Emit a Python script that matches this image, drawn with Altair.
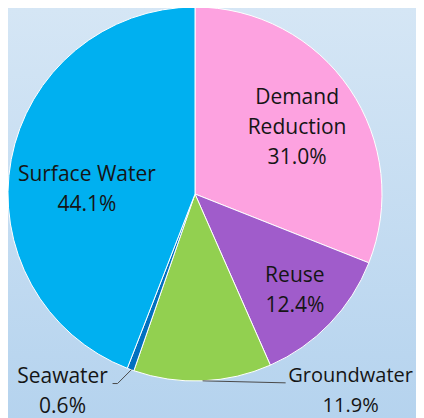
import altair as alt
import pandas as pd

categories = ["Demand Reduction", "Reuse", "Groundwater", "Seawater", "Surface Water"]
shares = [31.0, 12.4, 11.9, 0.6, 44.1]
label_names = ["Demand\nReduction", "Reuse", "Groundwater", "Seawater", "Surface Water"]
colors = ["#fda2e0", "#a05ccb", "#92d050", "#0070c0", "#00b0f0"]

df = pd.DataFrame({
    "category": categories,
    "share": shares,
    "name": label_names,
    "order": list(range(len(categories))),
})
df["label"] = df["name"] + "\n" + df["share"].map(lambda v: f"{v:.1f}%")

W, H = 374, 372
PAD_R, PAD_B = 34, 40
CX, CY, R = W / 2, H / 2, 187
FONT = "Open Sans"
FS = 21
LH = 30

gradient = alt.Gradient(
    gradient="linear",
    stops=[alt.GradientStop(color="#d5e6f5", offset=0),
           alt.GradientStop(color="#b5d3ee", offset=1)],
    x1=0, x2=0, y1=0, y2=1,
)
bg = alt.Chart(pd.DataFrame({"k": [0]})).mark_rect(fill=gradient).encode(
    x=alt.value(0), x2=alt.value(W + PAD_R), y=alt.value(0), y2=alt.value(H + PAD_B)
)

pie = alt.Chart(df).mark_arc(radius=R, stroke="white", strokeWidth=1).encode(
    theta=alt.Theta("share:Q", stack=True),
    color=alt.Color("category:N", scale=alt.Scale(domain=categories, range=colors), legend=None),
    order=alt.Order("order:Q"),
)

base = alt.Chart(df).transform_window(
    cum="sum(share)", sort=[alt.SortField("order")]
).transform_calculate(
    mid="2*PI*(datum.cum - datum.share/2)/100"
)


def label(cat, r, dx=0, dy=0, lines=2, fs=FS):
    return base.transform_filter(alt.datum.category == cat).transform_calculate(
        px=f"{CX} + {r}*sin(datum.mid)", py=f"{CY} - {r}*cos(datum.mid)"
    ).mark_text(
        font=FONT, fontSize=fs, lineBreak="\n", lineHeight=LH,
        align="center", baseline="middle", dx=dx, dy=dy - (lines - 1) * LH / 2,
        color="#151515",
    ).encode(
        x=alt.X("px:Q", scale=None), y=alt.Y("py:Q", scale=None), text="label:N"
    )


def leader(cat, ox1, oy1, ox2, oy2):
    return base.transform_filter(alt.datum.category == cat).transform_calculate(
        lx=f"{CX} + {R}*sin(datum.mid) + {ox1}", ly=f"{CY} - {R}*cos(datum.mid) + {oy1}",
        lx2=f"{CX} + {R}*sin(datum.mid) + {ox2}", ly2=f"{CY} - {R}*cos(datum.mid) + {oy2}",
    ).mark_rule(color="#4a4a4a", strokeWidth=1).encode(
        x=alt.X("lx:Q", scale=None), y=alt.Y("ly:Q", scale=None),
        x2="lx2:Q", y2="ly2:Q",
    )


chart = alt.layer(
    bg,
    pie,
    leader("Groundwater", 0, 0, 83, 2),
    leader("Seawater", 1, 0, -13, 14),
    leader("Seawater", -13, 14, -18, 14),
    label("Demand Reduction", 121, 2, 2, lines=3),
    label("Surface Water", 108, -2, 16),
    label("Reuse", 140, -1, 0),
    label("Groundwater", R, 148, 10, fs=20),
    label("Seawater", R, -68, 22),
).properties(
    width=W, height=H,
    padding={"left": 0, "top": 0, "right": PAD_R, "bottom": PAD_B},
    autosize="none",
).configure_view(stroke=None)

chart.save("out.html", embed_options={"renderer": "svg", "actions": False})
